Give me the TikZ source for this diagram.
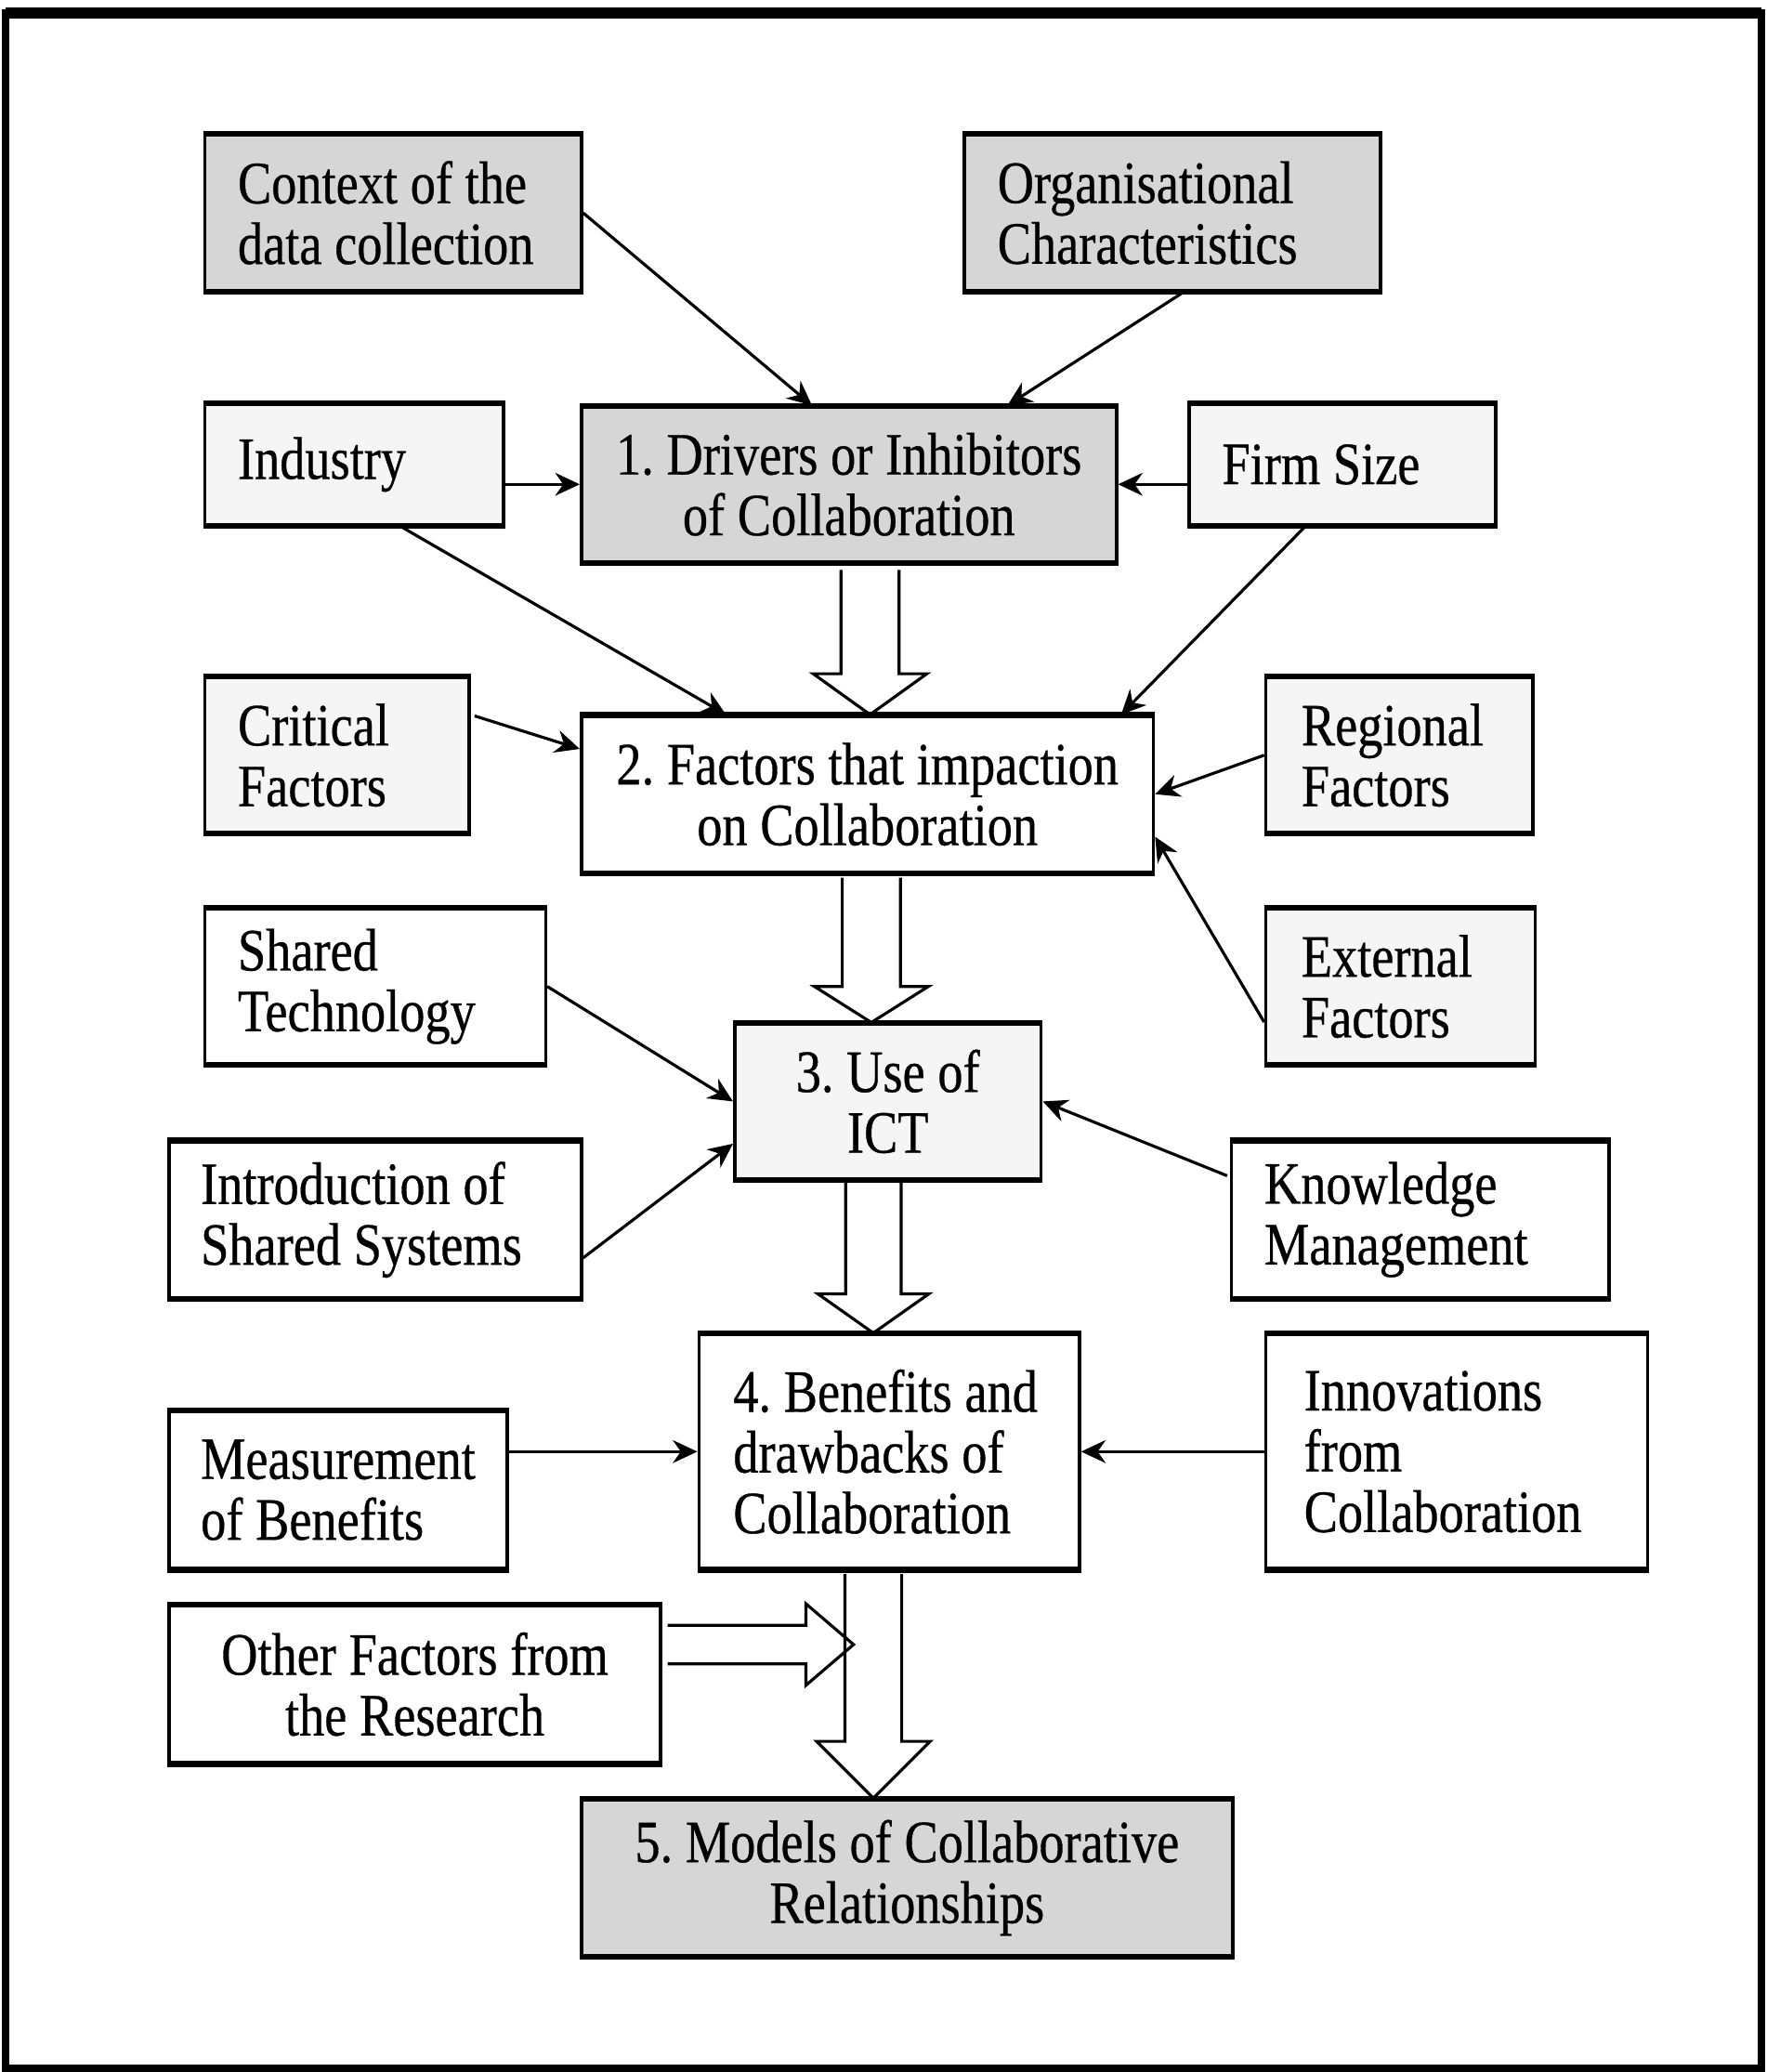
\documentclass[tikz,border=0pt]{standalone}
\usepackage{fontspec}
\setmainfont{Liberation Serif}[FakeStretch=0.84, FakeBold=0.5]
\usetikzlibrary{calc,arrows.meta}

% one drawing unit
\def\pxu{0.014226cm}
\newcommand\boxfont{\fontsize{18.4pt}{18.6pt}\selectfont\frenchspacing
  \fontdimen2\font=3.9pt\relax\hyphenpenalty=10000\exhyphenpenalty=10000}
\newcommand\boxspacing{\spaceskip=3.9pt\relax\xspaceskip=3.9pt\relax}

\tikzset{
  box/.style={draw=black, line width=1pt, inner sep=0pt, font=\boxfont},
  heavy/.style={box, fill=black!16},
  light/.style={box, fill=black!4},
  plain/.style={box, fill=white},
  rim/.style={line width=1.5pt},
  link/.style={line width=0.9pt, -{Stealth[length=7.5pt,width=7pt]}},
  hollow/.style={line width=0.9pt, line join=miter},
}

% #1 name, #2 left, #3 top, #4 right, #5 bottom, #6 style, #7 alignment, #8 side padding, #9 text
\newcommand\bx[9]{%
  \node[#6, align=#7, minimum width={(#4-#2)*\pxu}, minimum height={(#5-#3)*\pxu},
        text width={(#4-#2-2*#8)*\pxu}] (#1) at ({(#2+#4)/2},{(#3+#5)/2}) {\boxspacing #9};
  \draw[rim] (#1.north west) -- (#1.north east) (#1.south west) -- (#1.south east);}

% open-tailed hollow arrow: #1 tail, #2 tip, #3 half shaft, #4 half head, #5 head length
\newcommand\blockarrow[5]{%
  \coordinate (hb) at ($(#2)!#5!(#1)$);
  \draw[hollow] ($(#1)!#3!90:(#2)$) -- ($(hb)!#3!90:(#2)$) -- ($(hb)!#4!90:(#2)$) -- (#2)
     -- ($(hb)!#4!-90:(#2)$) -- ($(hb)!#3!-90:(#2)$) -- ($(#1)!#3!-90:(#2)$);}

\begin{document}
\begin{tikzpicture}[x=0.014226cm, y=-0.014226cm]
\useasboundingbox (0,0) rectangle (1337,1568);
\fill[white] (0,0) rectangle (1337,1568);

% outer frame
\draw[line width=2.2pt] (4,10) rectangle (1333,1565);
\draw[line width=3.5pt] (4,10) -- (1333,10);

% boxes
\bx{ctx}{155}{102}{440}{220}{heavy}{left}{25}{Context~of~the\\data~collection}
\bx{org}{730}{102}{1045}{220}{heavy}{left}{25}{Organisational\\Characteristics}
\bx{ind}{155}{306}{381}{397}{light}{left}{25}{Industry}
\bx{drv}{440}{308}{845}{425}{heavy}{center}{15}{1.~Drivers~or~Inhibitors\\of~Collaboration}
\bx{firm}{900}{306}{1132}{397}{light}{left}{25}{Firm~Size}
\bx{crit}{155}{513}{355}{630}{light}{left}{25}{Critical\\Factors}
\bx{fac}{440}{542}{873}{660}{plain}{center}{12}{2.~Factors~that~impaction\\on~Collaboration}
\bx{reg}{958}{513}{1160}{630}{light}{left}{27}{Regional\\Factors}
\bx{shr}{155}{688}{413}{805}{plain}{left}{25}{Shared\\Technology}
\bx{ext}{958}{688}{1162}{805}{light}{left}{27}{External\\Factors}
\bx{ict}{556}{775}{788}{892}{light}{center}{15}{3.~Use~of\\ICT}
\bx{intro}{128}{864}{440}{982}{plain}{left}{24}{Introduction~of\\Shared~Systems}
\bx{know}{932}{864}{1218}{982}{plain}{left}{25}{Knowledge\\Management}
\bx{ben}{529}{1010}{817}{1187}{plain}{left}{26}{4.~Benefits~and\\drawbacks~of\\Collaboration}
\bx{inn}{958}{1010}{1247}{1187}{plain}{left}{29}{Innovations\\from\\Collaboration}
\bx{meas}{128}{1068}{384}{1187}{plain}{left}{24}{Measurement\\of~Benefits}
\bx{oth}{128}{1215}{500}{1334}{plain}{center}{15}{Other~Factors~from\\the~Research}
\bx{mod}{440}{1362}{933}{1480}{heavy}{center}{15}{5.~Models~of~Collaborative\\Relationships}

% single-line connectors
\draw[link] (ctx.east) -- ($(drv.north)+(-28,0)$);
\draw[link] ($(org.south)+(8,0)$) -- ($(drv.north)+(120,0)$);
\draw[link] (ind.east |- drv.west) -- (drv.west);
\draw[link] (firm.west |- drv.east) -- (drv.east);
\draw[link] ($(ind.south)+(35,0)$) -- ($(fac.north)+(-107,0)$);
\draw[link] ($(firm.south)+(-28,0)$) -- ($(fac.north)+(192,0)$);
\draw[link] ($(crit.north east)+(3,30)$) -- ($(fac.north west)+(0,26)$);
\draw[link] (reg.west) -- (fac.east);
\draw[link] ($(ext.west)+(0,27)$) -- ($(fac.south east)+(0,-28)$);
\draw[link] (shr.east) -- (ict.west);
\draw[link] ($(intro.east)+(0,29)$) -- ($(ict.west)+(0,32)$);
\draw[link] ($(know.north west)+(-2,27)$) -- (ict.east);
\draw[link] (meas.east |- ben.west) -- (ben.west);
\draw[link] (inn.west) -- (ben.east);

% hollow flow arrows
\coordinate (a1s) at ($(drv.south)+(16,5)$);
\coordinate (a1e) at (a1s |- fac.north);
\blockarrow{a1s}{a1e}{8.9pt}{17.4pt}{12.5pt}
\coordinate (a2s) at ($(fac.south)+(3,3)$);
\coordinate (a2e) at (a2s |- ict.north);
\blockarrow{a2s}{a2e}{8.9pt}{17.4pt}{11pt}
\coordinate (a3s) at ($(ict.south)+(-11,2)$);
\coordinate (a3e) at (a3s |- ben.north);
\blockarrow{a3s}{a3e}{8.5pt}{17pt}{12pt}
\coordinate (a4s) at ($(ben.south)+(-12,3)$);
\coordinate (a4e) at (a4s |- mod.north);
\blockarrow{a4s}{a4e}{8.7pt}{17.4pt}{17.4pt}
\coordinate (a5s) at ($(oth.east)+(4,-30)$);
\coordinate (a5e) at ($(a5s -| a4s)+(-15,0)$);
\blockarrow{a5s}{a5e}{5.9pt}{12.5pt}{14.6pt}
\end{tikzpicture}
\end{document}
